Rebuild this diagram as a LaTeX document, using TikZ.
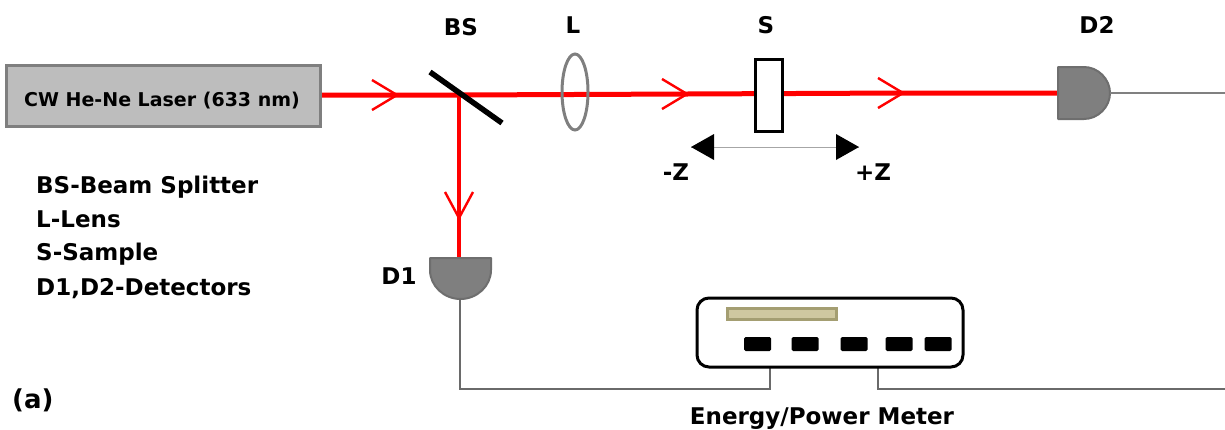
\documentclass[tikz,border=0pt]{standalone}
\usepackage{fontspec}
\setmainfont{DejaVu Sans}
\usetikzlibrary{calc,shapes.geometric}
\definecolor{detgrey}{HTML}{7F7F7F}
\definecolor{detedge}{HTML}{6E6E6E}
\definecolor{wire}{HTML}{6A6A6A}
\definecolor{lasergrey}{HTML}{BDBDBD}
\definecolor{dispfill}{HTML}{CFC8A0}
\definecolor{dispedge}{HTML}{A49E72}
\tikzset{
  x=1pt,y=-1pt,
  lbl/.style={font=\bfseries\fontsize{23}{25}\selectfont,text=black,inner sep=0pt,anchor=base},
  leg/.style={lbl,anchor=base west},
  beam/.style={draw=red,line width=5pt},
  chev/.style={draw=red,line width=2.4pt,line join=miter},
  wireline/.style={draw=wire,line width=1.6pt},
  det/.style={fill=detgrey,draw=detedge,line width=2pt,line join=round},
  btn/.style={draw=none,fill=black,minimum width=27pt,minimum height=14pt,inner sep=0pt,rounded corners=1.5pt},
}
\begin{document}
\begin{tikzpicture}
\useasboundingbox (0,0) rectangle (1225,429);
% coordinates
\coordinate (c1) at (397,95);
\coordinate (split) at (459,95);
\coordinate (c2) at (687,94);
\coordinate (c3) at (903,93);
\coordinate (c4) at (459,218);
\coordinate (d2in) at (1058,93);
\coordinate (d2out) at (1110,93);
\coordinate (d2end) at (1225,93);
\coordinate (d1in) at (459,257);
\coordinate (d1out) at (460,299);
\coordinate (w1) at (460,389);
\coordinate (w2) at (770,389);
\coordinate (w3) at (878,389);
\coordinate (w4) at (1225,389);
\coordinate (m1) at (430,72);
\coordinate (m2) at (502,123);
\coordinate (zl) at (691,147);
\coordinate (zr) at (859,147);
% laser
\node[draw=detgrey,fill=lasergrey,line width=3pt,minimum width=314pt,minimum height=61pt,inner sep=0pt] (laser) at (163.5,96) {};
\node[lbl,font=\bfseries\fontsize{19}{21}\selectfont] (lasertext) at (162,106) {CW He-Ne Laser (633 nm)};
% beams
\draw[beam] (laser.east |- c1) -- (split) -- (c2) -- (c3) -- (d2in);
\draw[beam,line width=4.5pt] (split) -- (d1in);
\draw[chev] ($(c1)+(-25,-15)$) -- (c1) -- ($(c1)+(-25,15)$);
\draw[chev] ($(c2)+(-25,-15)$) -- (c2) -- ($(c2)+(-25,15)$);
\draw[chev] ($(c3)+(-25,-15)$) -- (c3) -- ($(c3)+(-25,15)$);
\draw[chev] ($(c4)+(-14,-26)$) -- (c4) -- ($(c4)+(14,-26)$);
% mirror
\draw[black,line width=5.5pt] (m1) -- (m2);
% lens
\node[ellipse,draw=detgrey,line width=3pt,minimum width=26pt,minimum height=76pt,inner sep=0pt] (lens) at (575,92) {};
% sample
\node[draw=black,fill=white,line width=3pt,minimum width=27pt,minimum height=72pt,inner sep=0pt] (sample) at (768.5,95) {};
% z arrow
\draw[draw=gray!70,line width=.8pt] (zl) -- (zr);
\fill[black] (zl) -- (714,134) -- (714,160) -- cycle;
\fill[black] (zr) -- (836,134) -- (836,160) -- cycle;
% detectors
\draw[det] (1058,67) -- (1084,67) .. controls (1098,67) and (1110,79) .. (1110,93) .. controls (1110,107) and (1098,119) .. (1084,119) -- (1058,119) -- cycle;
\draw[det] (430,258) -- (491,258) -- (491,270) .. controls (491,286) and (477,299) .. (460.5,299) .. controls (444,299) and (430,286) .. (430,270) -- cycle;
% wires
\draw[wireline,line width=2.5pt,draw=gray] (d2out) -- (d2end);
\draw[wireline] (d1out) -- (w1) -- (w2) -- (w2 |- 0,367);
\draw[wireline] (w3 |- 0,367) -- (w3) -- (w4);
% meter
\node[draw=black,fill=white,line width=3pt,rounded corners=12pt,minimum width=266pt,minimum height=69pt,inner sep=0pt] (meter) at (830,332.5) {};
\node[draw=dispedge,fill=dispfill,line width=2.5pt,minimum width=109pt,minimum height=11pt,inner sep=0pt] (display) at (782,314) {};
\node[btn] (b1) at (757.5,344) {};
\node[btn] (b2) at (805,344) {};
\node[btn] (b3) at (854,344) {};
\node[btn] (b4) at (899,344) {};
\node[btn] (b5) at (938,344) {};
% labels
\node[lbl] (lbs) at (461,35) {BS};
\node[lbl] (ll) at (573,33) {L};
\node[lbl] (ls) at (766,33) {S};
\node[lbl] (ld2) at (1097,33) {D2};
\node[lbl] (ld1) at (399,284) {D1};
\node[lbl] (lmz) at (676,180) {-Z};
\node[lbl] (lpz) at (873,180) {+Z};
\node[leg] (k1) at (36,193) {BS-Beam Splitter};
\node[leg] (k2) at (36,227) {L-Lens};
\node[leg] (k3) at (36,260) {S-Sample};
\node[leg] (k4) at (36,295) {D1,D2-Detectors};
\node[lbl,anchor=base west,font=\bfseries\fontsize{26}{28}\selectfont] (tag) at (12,408) {(a)};
\node[lbl] (lmeter) at (822,424) {Energy/Power Meter};
\end{tikzpicture}
\end{document}
